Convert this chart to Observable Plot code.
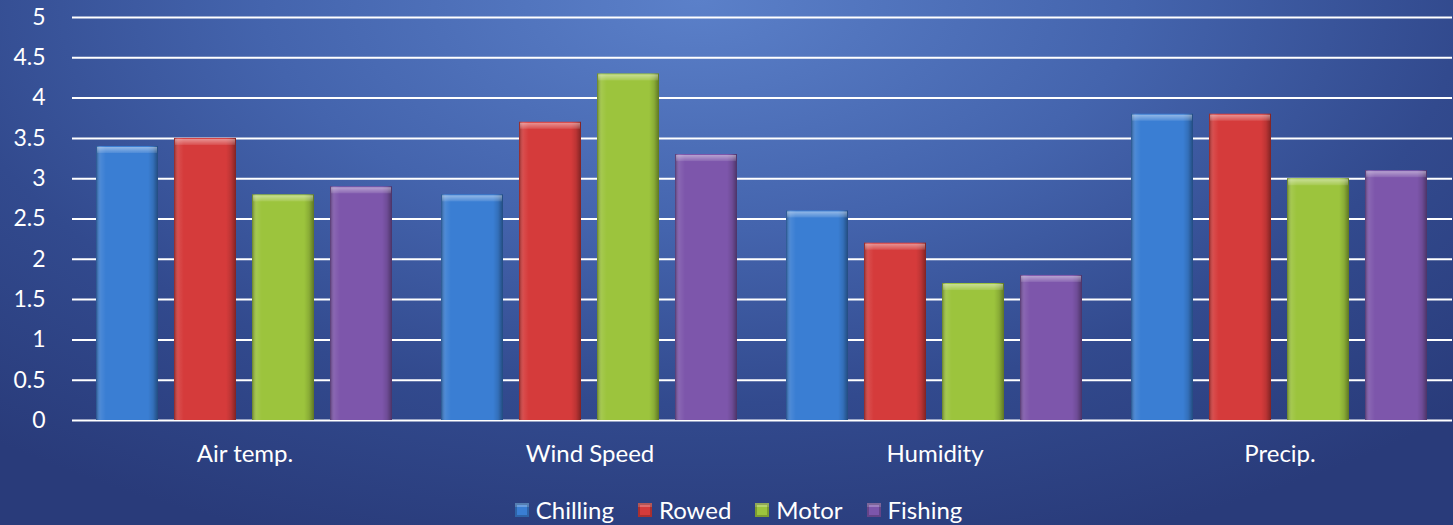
<!DOCTYPE html>
<html>
<head>
<meta charset="utf-8">
<script src="https://cdn.jsdelivr.net/npm/d3@7"></script>
<script src="https://cdn.jsdelivr.net/npm/@observablehq/plot@0.6"></script>
<style>
  html, body { margin: 0; padding: 0; }
  body {
    width: 1453px; height: 525px; overflow: hidden;
    background: radial-gradient(ellipse 75% 110% at 48% 0%, #5b80c9 0%, #4464ad 40%, #324a8e 70%, #293b7a 100%);
    font-family: Lato, "Open Sans", sans-serif;
  }
  #chart svg { display: block; }
  #legend {
    display: flex; justify-content: center; align-items: center;
    gap: 24px; color: white; font-size: 24px; line-height: 30px; height: 45px; padding-top: 15px; box-sizing: border-box; padding-left: 24px;
  }
  #legend .item { display: flex; align-items: center; gap: 7px; }
  #legend .swatch { width: 14px; height: 14px; box-shadow: inset 0 0 0 2px rgba(0,0,0,0.2), inset 0 4px 0 rgba(255,255,255,0.25); }
</style>
</head>
<body>
<div id="chart"></div>
<div id="legend"></div>
<script>
// Survey ratings by weather factor, one bar per activity
const categories = ["Air temp.", "Wind Speed", "Humidity", "Precip."];
const seriesNames = ["Chilling", "Rowed", "Motor", "Fishing"];
const chilling = [3.4, 2.8, 2.6, 3.8];
const rowed = [3.5, 3.7, 2.2, 3.8];
const motor = [2.8, 4.3, 1.7, 3.0];
const fishing = [2.9, 3.3, 1.8, 3.1];
const yTicks = [0, 0.5, 1, 1.5, 2, 2.5, 3, 3.5, 4, 4.5, 5];
const seriesColors = ["#3a7ed3", "#d53b3b", "#9cc43d", "#7d56ab"];

const seriesValues = [chilling, rowed, motor, fishing];
const data = categories.flatMap((category, i) =>
  seriesNames.map((series, s) => ({category, series, value: seriesValues[s][i]}))
);

const chart = Plot.plot({
  width: 1453,
  height: 480,
  marginLeft: 71,
  marginRight: 0,
  marginTop: 17,
  marginBottom: 60,
  style: {background: "transparent", color: "white", fontFamily: "Lato, 'Open Sans', sans-serif"},
  fx: {domain: categories, padding: 0, label: null, axis: null},
  x: {domain: seriesNames, paddingInner: 0.2, paddingOuter: 0.3, axis: null},
  y: {domain: [0, 5], label: null, axis: null},
  color: {domain: seriesNames, range: seriesColors},
  marks: [
    Plot.axisY(yTicks, {anchor: "left", tickSize: 0, tickPadding: 27, tickFormat: d => String(d), label: null, fontSize: 23}),
    Plot.axisFx({domain: categories, anchor: "bottom", tickSize: 0, tickPadding: 24, label: null, fontSize: 24}),
    Plot.ruleY(yTicks, {stroke: "white", strokeWidth: 2}),
    Plot.barY(data, {fx: "category", x: "series", y: "value", fill: "series"}),
    // bevelled shading across each bar
    Plot.barY(data, {fx: "category", x: "series", y: "value", fill: "url(#bevel)"}),
    // lighter cap along each bar's top edge
    Plot.rectY(data, {fx: "category", x: "series", y1: d => d.value - 0.1, y2: "value", fill: "url(#cap)", inset: 1})
  ]
});

const defs = d3.select(chart).insert("defs", ":first-child");
const bevel = defs.append("linearGradient").attr("id", "bevel").attr("x1", 0).attr("x2", 1).attr("y1", 0).attr("y2", 0);
[[0, "#000", 0.35], [0.08, "#fff", 0.08], [0.16, "#fff", 0], [0.84, "#000", 0], [0.92, "#000", 0.12], [1, "#000", 0.4]]
  .forEach(([o, c, a]) => bevel.append("stop").attr("offset", o).attr("stop-color", c).attr("stop-opacity", a));
const cap = defs.append("linearGradient").attr("id", "cap").attr("x1", 0).attr("x2", 0).attr("y1", 0).attr("y2", 1);
[[0, "#fff", 0.45], [1, "#fff", 0.1]]
  .forEach(([o, c, a]) => cap.append("stop").attr("offset", o).attr("stop-color", c).attr("stop-opacity", a));

document.getElementById("chart").appendChild(chart);

const legend = document.getElementById("legend");
seriesNames.forEach((name, i) => {
  const item = document.createElement("div");
  item.className = "item";
  const sw = document.createElement("span");
  sw.className = "swatch";
  sw.style.background = seriesColors[i];
  const label = document.createElement("span");
  label.textContent = name;
  item.append(sw, label);
  legend.appendChild(item);
});
</script>
</body>
</html>
